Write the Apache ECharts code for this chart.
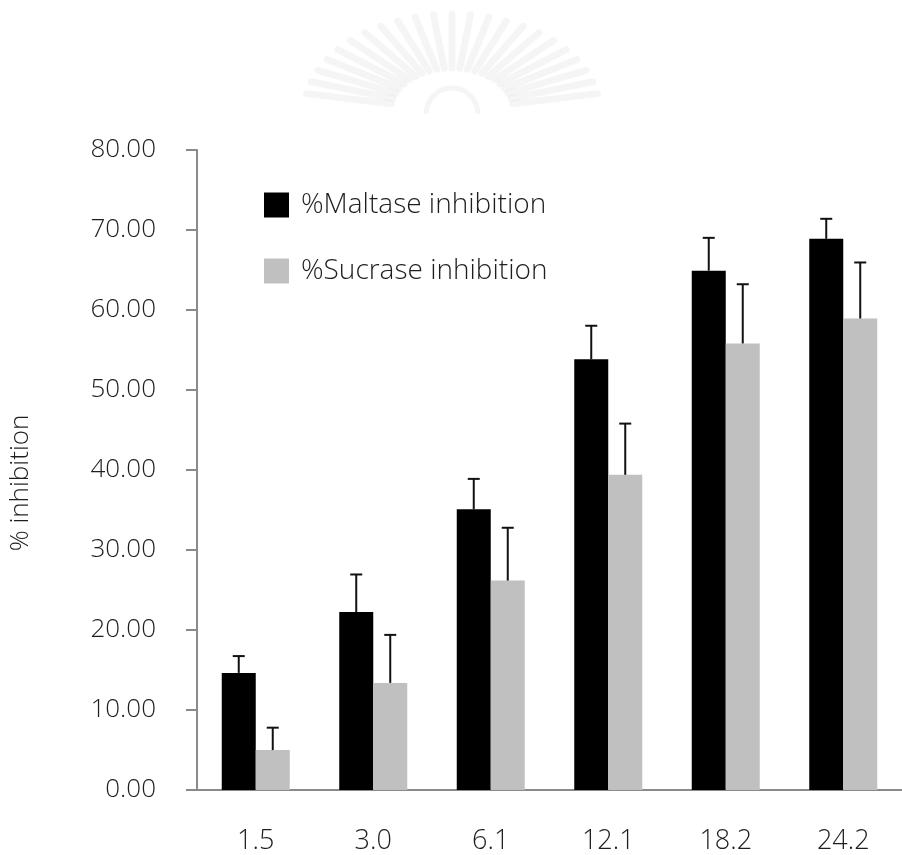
<!DOCTYPE html>
<html>
<head>
<meta charset="utf-8">
<script src="https://cdn.jsdelivr.net/npm/echarts@6/dist/echarts.min.js"></script>
<style>html,body{margin:0;padding:0;background:#fff}#c{width:902px;height:855px}</style>
</head>
<body>
<div id="c"></div>
<script>
// ---- data ----
const categories = ['1.5', '3.0', '6.1', '12.1', '18.2', '24.2'];
const maltase = [14.64, 22.24, 35.09, 53.83, 64.92, 68.90];
const maltaseSD = [2.1, 4.7, 3.8, 4.2, 4.1, 2.5];
const sucrase = [4.99, 13.39, 26.18, 39.40, 55.82, 58.94];
const sucraseSD = [2.8, 6.0, 6.6, 6.4, 7.4, 7.0];
const yTicks = { min: 0, max: 80, interval: 10 };
const seriesNames = ['%Maltase inhibition', '%Sucrase inhibition'];

const FONT = '"Open Sans", "Noto Sans", sans-serif';
const FW = 300;
const TXT = '#1e1e1e';
const AXIS = '#8a8a8a';
const BAR_W = 34;

function errSeries(name, means, sds, side) {
  return {
    type: 'custom',
    name: name + ' SD',
    silent: true,
    z: 5,
    data: means.map((m, i) => [i, m, sds[i]]),
    encode: { x: 0, y: 1 },
    renderItem: function (params, api) {
      const i = api.value(0), m = api.value(1), s = api.value(2);
      const base = api.coord([i, m]);
      const top = api.coord([i, m + s]);
      const x = base[0] + side * BAR_W / 2;
      const st = { stroke: '#111', lineWidth: 2 };
      return {
        type: 'group',
        children: [
          { type: 'line', shape: { x1: x, y1: base[1], x2: x, y2: top[1] }, style: st },
          { type: 'line', shape: { x1: x - 6, y1: top[1], x2: x + 6, y2: top[1] }, style: st }
        ]
      };
    }
  };
}

// faint watermark rays (decoration)
const wm = [];
const cx = 452, cy = 112;
for (let k = 0; k <= 22; k++) {
  const a = Math.PI * (0.06 + 0.88 * k / 22);
  const c = Math.cos(a), s = Math.sin(a);
  wm.push({
    type: 'line',
    shape: { x1: cx + 62 * c, y1: cy - 44 * s, x2: cx + 148 * c, y2: cy - 98 * s },
    style: { stroke: 'rgba(0,0,0,0.04)', lineWidth: 7, lineCap: 'round' }
  });
}
wm.push({ type: 'arc', shape: { cx: cx, cy: cy + 2, r: 26, startAngle: Math.PI, endAngle: 2 * Math.PI },
  style: { stroke: 'rgba(0,0,0,0.04)', lineWidth: 5, fill: null } });

const chart = echarts.init(document.getElementById('c'), null, { renderer: 'canvas' });
chart.setOption({
  animation: false,
  backgroundColor: '#fff',
  graphic: [{ type: 'group', silent: true, z: -10, children: wm }],
  grid: { left: 196, top: 150, bottom: 63, right: -10, containLabel: false },
  legend: {
    data: seriesNames,
    orient: 'vertical',
    left: 264,
    top: 191,
    padding: 0,
    itemWidth: 25,
    itemHeight: 25,
    itemGap: 38,
    icon: 'rect',
    selectedMode: false,
    textStyle: { fontFamily: FONT, fontWeight: FW, fontSize: 28, color: TXT, padding: [0, 0, 0, 7] }
  },
  xAxis: {
    type: 'category',
    data: categories,
    axisLine: { lineStyle: { color: AXIS, width: 2 } },
    axisTick: { length: 10, lineStyle: { color: AXIS, width: 2 } },
    axisLabel: { fontFamily: FONT, fontWeight: FW, fontSize: 27, color: TXT, margin: 38 }
  },
  yAxis: {
    type: 'value',
    min: yTicks.min, max: yTicks.max, interval: yTicks.interval,
    name: '% inhibition',
    nameLocation: 'middle',
    nameGap: 163,
    nameRotate: 90,
    nameTextStyle: { fontFamily: FONT, fontWeight: FW, fontSize: 26, color: TXT, padding: [0, 26, 0, 0] },
    splitLine: { show: false },
    axisLine: { show: true, lineStyle: { color: AXIS, width: 2 } },
    axisTick: { show: true, length: 11, lineStyle: { color: AXIS, width: 2 } },
    axisLabel: { fontFamily: FONT, fontWeight: FW, fontSize: 26, color: TXT, margin: 41,
      formatter: v => v.toFixed(2) }
  },
  series: [
    { type: 'bar', name: seriesNames[0], data: maltase, barWidth: BAR_W, barGap: '0%',
      itemStyle: { color: '#000' }, z: 2 },
    { type: 'bar', name: seriesNames[1], data: sucrase, barWidth: BAR_W, barGap: '0%',
      itemStyle: { color: '#c0c0c0' }, z: 2 },
    errSeries(seriesNames[0], maltase, maltaseSD, -1),
    errSeries(seriesNames[1], sucrase, sucraseSD, 1)
  ]
});
</script>
</body>
</html>
